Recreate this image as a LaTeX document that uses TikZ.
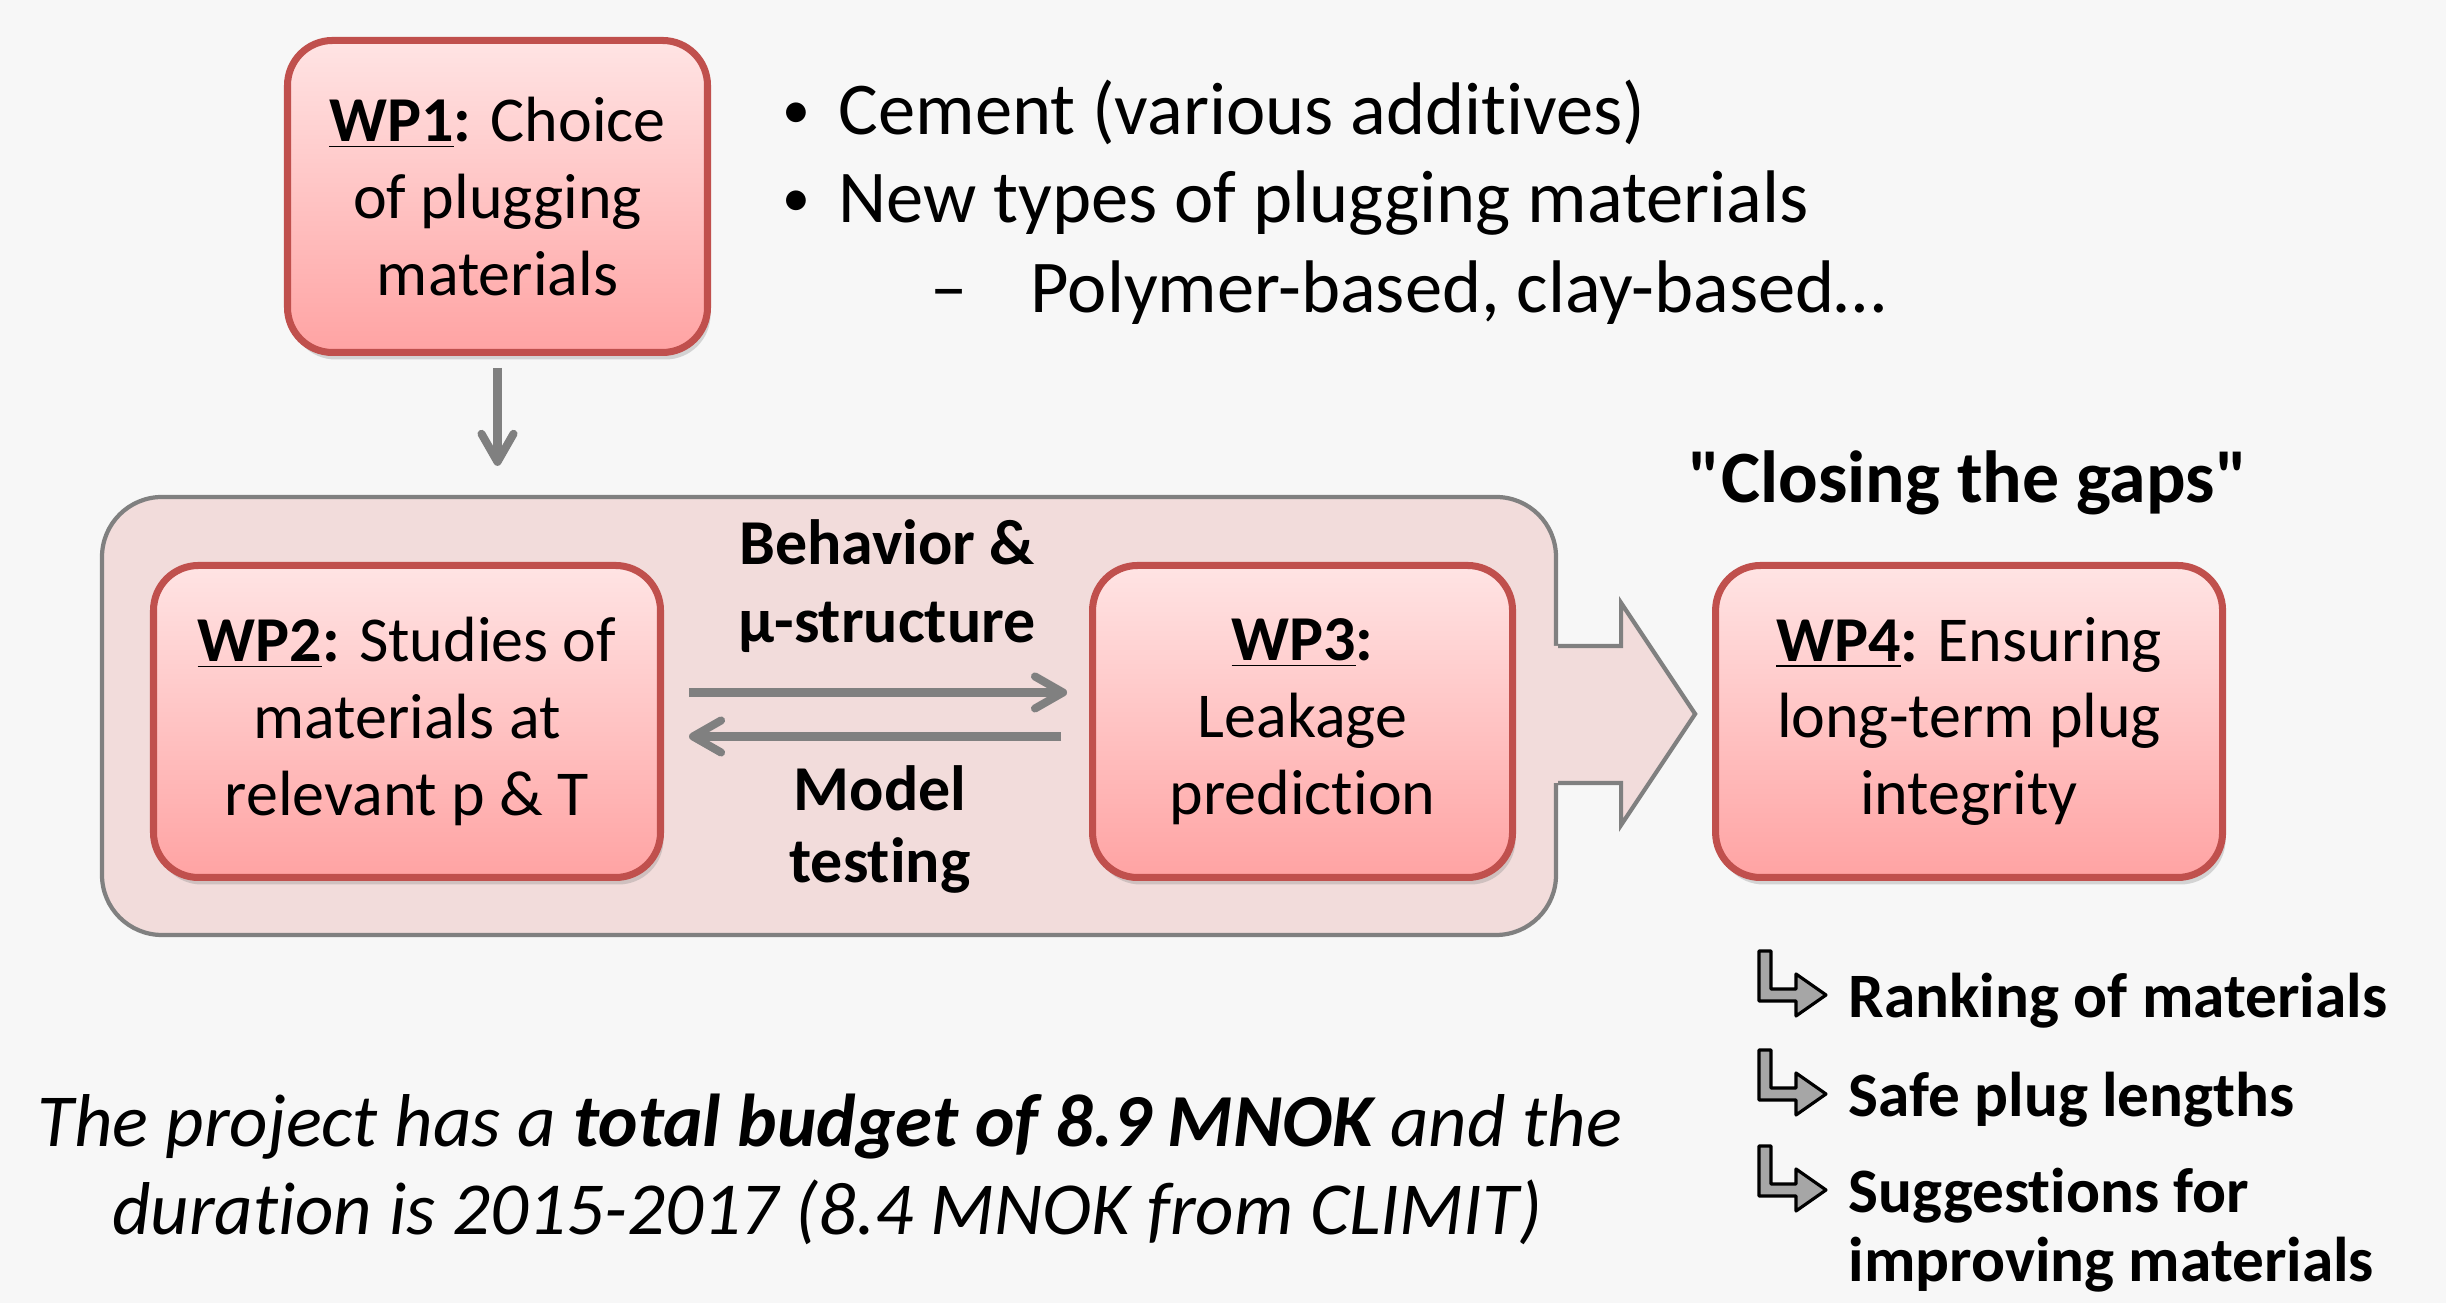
\documentclass[tikz,border=0pt]{standalone}
\usepackage{fontspec}
\setmainfont{Carlito}[Ligatures={TeX,NoCommon}]
\newfontfamily\gapsfont{Carlito}[Ligatures=NoCommon]
\usetikzlibrary{positioning,arrows.meta,shadows}

\definecolor{pagebg}{HTML}{F7F7F7}
\definecolor{wpedge}{HTML}{C0504D}
\definecolor{wptop}{HTML}{FFE4E4}
\definecolor{wpbottom}{HTML}{FFA3A3}
\definecolor{groupfill}{HTML}{F2DCDB}
\definecolor{linegray}{HTML}{808080}
\definecolor{hookgray}{HTML}{A6A6A6}

\newcommand{\wpname}[1]{\underline{\textbf{#1}}\textbf{:}}
\newcommand{\dotmark}{\raisebox{0.06cm}{\scalebox{0.75}{•}}}

\begin{document}
\begin{tikzpicture}[
    node distance=4.25cm,
    wp/.style={rectangle, rounded corners=0.45cm, draw=wpedge, line width=2pt,
        top color=wptop, bottom color=wpbottom, align=center,
        minimum width=4.2cm, minimum height=3.12cm,
        font=\fontsize{18.2}{21.9}\selectfont,
        drop shadow={shadow xshift=0.03cm, shadow yshift=-0.07cm, opacity=0.3}},
    wide/.style={minimum width=5.07cm},
    wpgroup/.style={rectangle, rounded corners=0.6cm, draw=linegray, line width=1.2pt,
        fill=groupfill, minimum width=14.54cm, minimum height=4.38cm},
    flow/.style={draw=linegray, line width=2.3pt,
        -{Straight Barb[length=2.8mm, width=3.2mm, line cap=round, line join=round]}},
    linktext/.style={inner sep=0pt, anchor=base, font=\fontsize{18.2}{22}\selectfont\bfseries},
    itemtxt/.style={inner sep=0pt, anchor=base west, font=\fontsize{21.2}{26}\selectfont},
    outcome/.style={inner sep=0pt, anchor=base west, font=\fontsize{18}{22}\selectfont\bfseries},
    note/.style={inner sep=0pt, anchor=base, font=\fontsize{21.3}{26}\selectfont\itshape},
    hookarrow/.pic={
        \filldraw[fill=hookgray, draw=black, line width=0.9pt, line join=round]
            (-0.69,0.44) -- (-0.57,0.44) -- (-0.57,0.06) -- (-0.32,0.06) -- (-0.32,0.21)
            -- (-0.02,0) -- (-0.32,-0.21) -- (-0.32,-0.06) -- (-0.69,-0.06) -- cycle;
    }
]

\fill[pagebg] (0,0) rectangle (24.46,13.03);
\useasboundingbox (0,0) rectangle (24.46,13.03);

% frame round WP2/WP3 and the big arrow out of it
\node[wpgroup] (core) at (8.29,5.87) {};
\fill[groupfill] ([xshift=-0.05cm,yshift=0.70cm]core.east) -- ++(0.68,0) -- ++(0,0.43)
    -- ++(0.74,-1.11) -- ++(-0.74,-1.11) -- ++(0,0.42) -- ++(-0.68,0) -- cycle;
\draw[linegray, line width=1.2pt] ([yshift=0.70cm]core.east) -- ++(0.63,0) -- ++(0,0.43)
    -- ++(0.74,-1.11) -- ++(-0.74,-1.11) -- ++(0,0.42) -- ++(-0.63,0);

% work packages
\node[wp] (wp1) at (4.975,11.065) {\wpname{WP1} Choice\\of plugging\\materials};
\node[wp, wide] (wp2) at (4.07,5.815) {\wpname{WP2} Studies of\\materials at\\relevant p \& T};
\node[wp, right=of wp2] (wp3) {\wpname{WP3}\\Leakage\\prediction};
\node[wp, wide, right=1.96cm of wp3] (wp4) {\wpname{WP4} Ensuring\\long-term plug\\integrity};

\draw[flow, shorten <=0.12cm, shorten >=0.29cm] (wp1) -- (wp1 |- core.north);
\draw[flow] ([xshift=2.5mm,yshift=2.9mm]wp2.east) -- ([xshift=-2.2mm,yshift=2.9mm]wp3.west);
\draw[flow] ([xshift=-2.8mm,yshift=-1.5mm]wp3.west) -- ([xshift=2.5mm,yshift=-1.5mm]wp2.east);

\node[linktext] (beh1) at (8.87,7.38) {Behavior \&};
\node[linktext] (beh2) at (8.87,6.60) {µ-structure};
\node[linktext] (mod1) at (8.80,4.92) {Model};
\node[linktext] (mod2) at (8.80,4.20) {testing};

% materials list
\node[itemtxt] (item1) at (7.82,11.68) {\makebox[0.56cm][l]{\dotmark}Cement (various additives)};
\node[itemtxt] (item2) at (7.82,10.80) {\makebox[0.56cm][l]{\dotmark}New types of plugging materials};
\node[itemtxt] (item3) at (9.30,9.90) {\makebox[1.0cm][l]{–}Polymer-based, clay-based…};

\node[inner sep=0pt, anchor=base, font=\gapsfont\fontsize{21}{25}\selectfont\bfseries] (gaps) at (19.68,8.00)
    {"Closing the gaps"};

% outcomes
\pic at (18.28,3.08) {hookarrow};
\pic at (18.28,2.09) {hookarrow};
\pic at (18.28,1.13) {hookarrow};
\node[outcome] (out1) at (18.48,2.85) {Ranking of materials};
\node[outcome] (out2) at (18.48,1.86) {Safe plug lengths};
\node[outcome] (out3) at (18.48,0.90) {Suggestions for};
\node[outcome] (out4) at (18.48,0.21) {improving materials};

% budget
\node[note] (bud1) at (8.30,1.56) {The project has a \textbf{total budget of 8.9 MNOK} and the};
\node[note] (bud2) at (8.27,0.68) {duration is 2015-2017 (8.4 MNOK from CLIMIT)};

\end{tikzpicture}
\end{document}
